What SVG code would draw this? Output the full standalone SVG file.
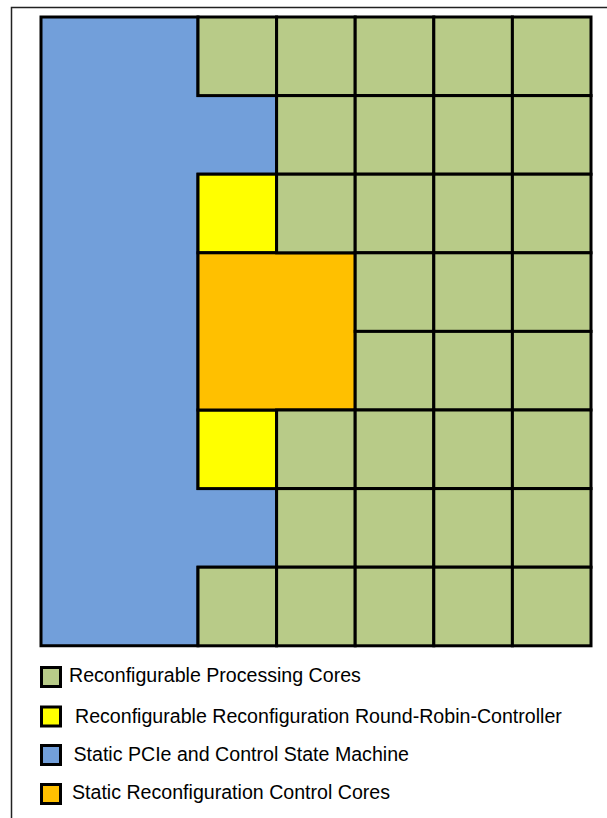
<svg xmlns="http://www.w3.org/2000/svg" width="607" height="818" viewBox="0 0 607 818">
<style>
.c{stroke:#000;stroke-width:3;stroke-linejoin:miter}
.g{fill:#B8CB88}
.y{fill:#FFFF00}
.o{fill:#FFC000}
.b{fill:#729FDA}
.t{font-family:"Liberation Sans",Arial,sans-serif;font-size:19.6px;fill:#000}
</style>
<rect width="607" height="818" fill="#fff"/>
<path d="M11.5 818 V7.5 H607" fill="none" stroke="#222" stroke-width="1.5"/>
<g id="static-pcie">
<path class="c b" d="M41 17 H198 V95.6 H276.6 V174.2 H198 V488.6 H276.6 V567.2 H198 V645.8 H41 Z"/>
</g>
<g id="rr-controller-top"><rect class="c y" x="198" y="174.2" width="78.6" height="78.6"/></g>
<g id="rr-controller-bottom"><rect class="c y" x="198" y="410" width="78.6" height="78.6"/></g>
<g id="reconfig-control"><rect class="c o" x="198" y="252.8" width="157.2" height="157.2"/></g>
<g id="processing-cores">
<g id="r0"><rect class="c g" x="198" y="17" width="78.6" height="78.6"/><rect class="c g" x="276.6" y="17" width="78.6" height="78.6"/><rect class="c g" x="355.2" y="17" width="78.6" height="78.6"/><rect class="c g" x="433.8" y="17" width="78.6" height="78.6"/><rect class="c g" x="512.4" y="17" width="78.6" height="78.6"/></g>
<g id="r1"><rect class="c g" x="276.6" y="95.6" width="78.6" height="78.6"/><rect class="c g" x="355.2" y="95.6" width="78.6" height="78.6"/><rect class="c g" x="433.8" y="95.6" width="78.6" height="78.6"/><rect class="c g" x="512.4" y="95.6" width="78.6" height="78.6"/></g>
<g id="r2"><rect class="c g" x="276.6" y="174.2" width="78.6" height="78.6"/><rect class="c g" x="355.2" y="174.2" width="78.6" height="78.6"/><rect class="c g" x="433.8" y="174.2" width="78.6" height="78.6"/><rect class="c g" x="512.4" y="174.2" width="78.6" height="78.6"/></g>
<g id="r3"><rect class="c g" x="355.2" y="252.8" width="78.6" height="78.6"/><rect class="c g" x="433.8" y="252.8" width="78.6" height="78.6"/><rect class="c g" x="512.4" y="252.8" width="78.6" height="78.6"/></g>
<g id="r4"><rect class="c g" x="355.2" y="331.4" width="78.6" height="78.6"/><rect class="c g" x="433.8" y="331.4" width="78.6" height="78.6"/><rect class="c g" x="512.4" y="331.4" width="78.6" height="78.6"/></g>
<g id="r5"><rect class="c g" x="276.6" y="410" width="78.6" height="78.6"/><rect class="c g" x="355.2" y="410" width="78.6" height="78.6"/><rect class="c g" x="433.8" y="410" width="78.6" height="78.6"/><rect class="c g" x="512.4" y="410" width="78.6" height="78.6"/></g>
<g id="r6"><rect class="c g" x="276.6" y="488.6" width="78.6" height="78.6"/><rect class="c g" x="355.2" y="488.6" width="78.6" height="78.6"/><rect class="c g" x="433.8" y="488.6" width="78.6" height="78.6"/><rect class="c g" x="512.4" y="488.6" width="78.6" height="78.6"/></g>
<g id="r7"><rect class="c g" x="198" y="567.2" width="78.6" height="78.6"/><rect class="c g" x="276.6" y="567.2" width="78.6" height="78.6"/><rect class="c g" x="355.2" y="567.2" width="78.6" height="78.6"/><rect class="c g" x="433.8" y="567.2" width="78.6" height="78.6"/><rect class="c g" x="512.4" y="567.2" width="78.6" height="78.6"/></g>
</g>
<g id="legend-processing"><rect class="c g" x="41.5" y="667.5" width="19" height="19"/><text class="t" x="69" y="682">Reconfigurable Processing Cores</text></g>
<g id="legend-rr"><rect class="c y" x="41.5" y="707" width="19" height="19"/><text class="t" x="75" y="722.5">Reconfigurable Reconfiguration Round-Robin-Controller</text></g>
<g id="legend-pcie"><rect class="c b" x="41.5" y="745.5" width="19" height="19"/><text class="t" x="73.5" y="760.5">Static PCIe and Control State Machine</text></g>
<g id="legend-control"><rect class="c o" x="41.5" y="784.5" width="19" height="19"/><text class="t" x="72" y="799">Static Reconfiguration Control Cores</text></g>
</svg>
